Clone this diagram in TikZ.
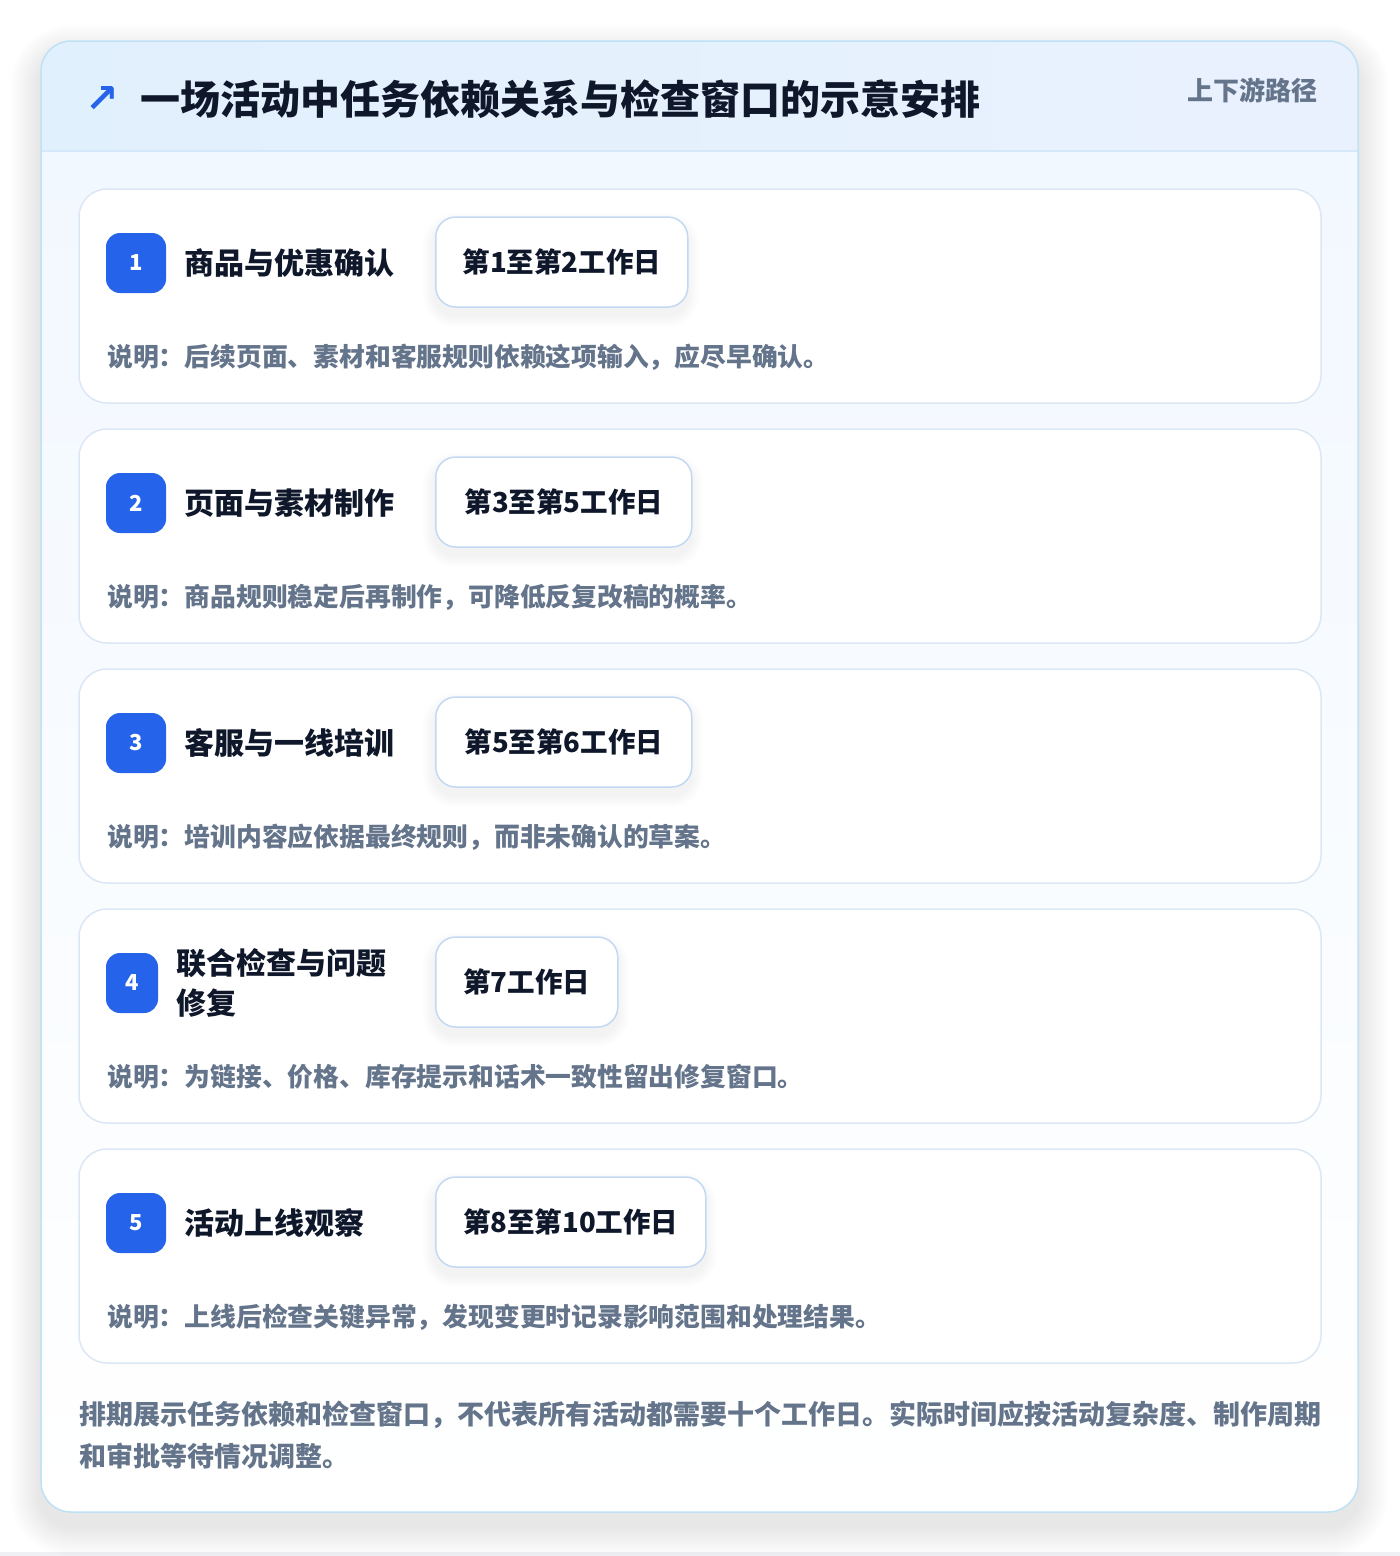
\documentclass[tikz,border=0pt]{standalone}
\usepackage{fontspec}
\setmainfont{Noto Sans CJK SC}
\newfontfamily\symfont{DejaVu Sans}
\definecolor{pagebg}{HTML}{EEF0F3}
\definecolor{titlec}{HTML}{0F172A}
\definecolor{descc}{HTML}{64748B}
\definecolor{badgec}{HTML}{2563EB}
\definecolor{pillb}{HTML}{C3D9F3}
\definecolor{cardb}{HTML}{DCE7F5}
\definecolor{outerb}{HTML}{BEE1F6}
\definecolor{headl}{HTML}{E1F0FD}
\definecolor{headr}{HTML}{EAF1FE}
\definecolor{headline}{HTML}{D5E8FA}
\definecolor{bodytop}{HTML}{F2F8FF}
\definecolor{shadowc}{HTML}{1E293B}
\tikzset{
  card/.style={draw=cardb, line width=1.5pt, fill=white, rounded corners=28pt,
    minimum width=1242pt, minimum height=214pt, inner sep=0pt},
  badge/.style={fill=badgec, rounded corners=14pt, minimum height=60pt, inner sep=0pt,
    text=white, font=\fontsize{22}{24}\selectfont\bfseries},
  taskname/.style={inner sep=0pt, text=titlec, font=\fontsize{30}{40}\selectfont\bfseries},
  pill/.style={draw=pillb, line width=1.5pt, fill=white, rounded corners=20pt,
    minimum height=90pt, inner xsep=0pt, inner ysep=0pt, text=titlec,
    font=\fontsize{27.5}{30}\selectfont\bfseries},
  desc/.style={inner sep=0pt, text=descc, font=\fontsize{25.8}{30}\selectfont\bfseries},
}
\newcommand\softshadow[6]{% x1,y1,x2,y2,radius,yoffset
  \foreach \k in {1,...,12}{
    \fill[shadowc, opacity=0.006, rounded corners=#5+\k*2.5pt]
      (#1-\k*2.5,#2-\k*2.5+#6) rectangle (#3+\k*2.5,#4+\k*2.5+#6);
  }}
\newcommand\pillshadow[4]{% x1,y1,x2,y2
  \foreach \k in {1,...,6}{
    \fill[shadowc, opacity=0.008, rounded corners=20pt+\k*2pt]
      (#1-\k*2,#2-\k*2+8) rectangle (#3+\k*2,#4+\k*2+8);
  }}
\newcommand\taskcard[7]{%
  \node[card] (card#1) at (700,#2+107) {};
  \node[badge, minimum width=#3pt] (badge#1) at (106+#3/2,#2+74) {#1};
  \node[taskname, anchor=west, align=left] (name#1) at (106+#3+18,#2+74) {#4};
  \pillshadow{435}{#2+28}{#7}{#2+118}
  \node[pill, anchor=west, minimum width=#7pt-435pt] (date#1) at (435,#2+73) {#5};
  \node[desc, anchor=west] (desc#1) at (107,#2+168) {#6};
}
\begin{document}
\begin{tikzpicture}[x=1pt,y=-1pt]
\useasboundingbox (0,0) rectangle (1400,1556);
\fill[white] (0,0) rectangle (1400,1556);
\fill[pagebg] (0,1552) rectangle (1400,1556);
% outer card with shadow
\softshadow{41}{41}{1358}{1512}{30pt}{14}
\fill[white, rounded corners=30pt] (41,41) rectangle (1358,1512);
\begin{scope}
  \clip[rounded corners=30pt] (41,41) rectangle (1358,1512);
  \shade[top color=bodytop, bottom color=white] (41,151) rectangle (1358,1512);
  \shade[left color=headl, right color=headr] (41,41) rectangle (1358,151);
  \draw[headline, line width=1.5pt] (41,151) -- (1358,151);
\end{scope}
\draw[outerb, line width=1.5pt, rounded corners=30pt] (41,41) rectangle (1358,1512);
% header
\node[inner sep=0pt, text=badgec, font=\symfont\bfseries\fontsize{40}{42}\selectfont] (arrow) at (102,99) {↗};
\node[inner sep=0pt, anchor=west, text=titlec, font=\fontsize{40}{44}\selectfont\bfseries] (title) at (140,99) {一场活动中任务依赖关系与检查窗口的示意安排};
\node[inner sep=0pt, anchor=east, text=descc, font=\fontsize{26}{30}\selectfont\bfseries] (tag) at (1318,90) {上下游路径};
% cards
\taskcard{1}{189}{60}{商品与优惠确认}{第1至第2工作日}{说明：后续页面、素材和客服规则依赖这项输入，应尽早确认。}{687}
\taskcard{2}{429}{60}{页面与素材制作}{第3至第5工作日}{说明：商品规则稳定后再制作，可降低反复改稿的概率。}{691}
\taskcard{3}{669}{60}{客服与一线培训}{第5至第6工作日}{说明：培训内容应依据最终规则，而非未确认的草案。}{691}
\taskcard{4}{909}{52}{联合检查与问题\\修复}{第7工作日}{说明：为链接、价格、库存提示和话术一致性留出修复窗口。}{617}
\taskcard{5}{1149}{60}{活动上线观察}{第8至第10工作日}{说明：上线后检查关键异常，发现变更时记录影响范围和处理结果。}{705}
% footer
\node[inner sep=0pt, anchor=north west, align=left, text=descc, font=\fontsize{27}{42}\selectfont\bfseries] (note) at (79,1401) {排期展示任务依赖和检查窗口，不代表所有活动都需要十个工作日。实际时间应按活动复杂度、制作周期\\和审批等待情况调整。};
\end{tikzpicture}
\end{document}
